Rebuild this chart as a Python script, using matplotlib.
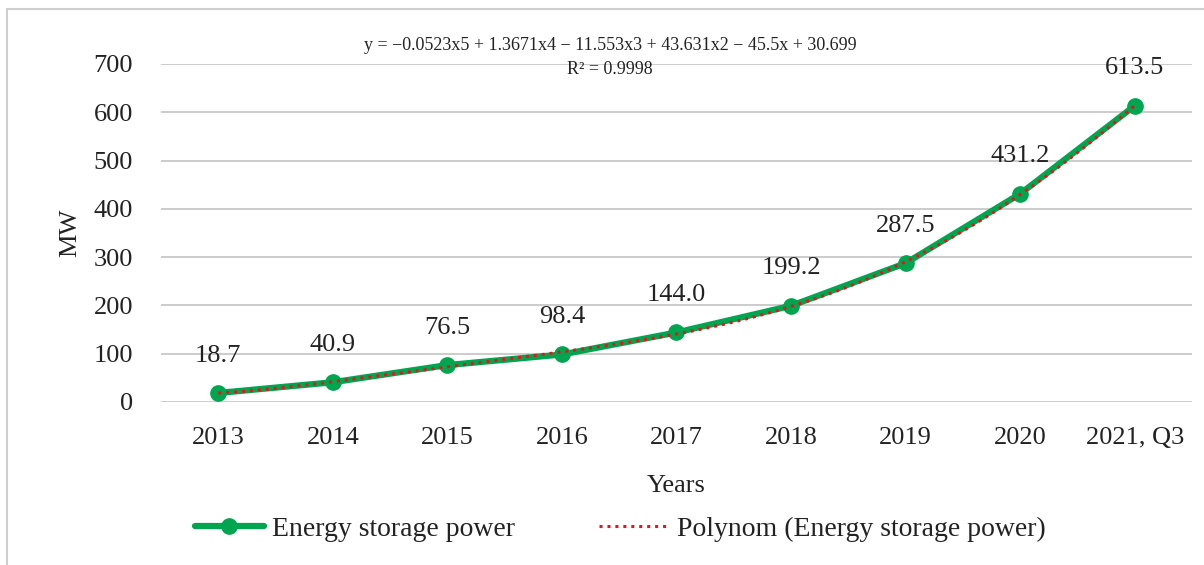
import numpy as np
import matplotlib.pyplot as plt
from matplotlib.patches import Rectangle

plt.rcParams['font.family'] = ['Liberation Serif', 'DejaVu Serif']

categories = ['2013', '2014', '2015', '2016', '2017', '2018', '2019', '2020', '2021, Q3']
power = [18.7, 40.9, 76.5, 98.4, 144.0, 199.2, 287.5, 431.2, 613.5]
labels = ['18.7', '40.9', '76.5', '98.4', '144.0', '199.2', '287.5', '431.2', '613.5']
equation = 'y = \u22120.0523x5 + 1.3671x4 \u2212 11.553x3 + 43.631x2 \u2212 45.5x + 30.699'
r2_text = 'R\u00b2 = 0.9998'

green = '#00A64F'
red = '#E8141B'
txt = '#222222'

fig = plt.figure(figsize=(12.04, 5.65), dpi=100)
ax = fig.add_axes([161 / 1204, 1 - 402 / 565, 1031 / 1204, 338 / 565])

x = np.arange(1, len(power) + 1)
ax.plot(x, power, color=green, lw=4.5, marker='o', ms=11, solid_capstyle='round',
        label='Energy storage power', zorder=3)

# 5th degree polynomial trendline, like the spreadsheet one
coef = np.polyfit(x, power, 5)
xf = np.linspace(1, len(power), 200)
ax.plot(xf, np.polyval(coef, xf), color=red, lw=2.2, ls=(0, (1, 1.6)),
        label='Polynom (Energy storage power)', zorder=4)

for xi, yi, lab in zip(x, power, labels):
    ax.annotate(lab, (xi, yi), xytext=(0, 19), textcoords='offset points',
                ha='center', va='bottom', fontsize=19, color=txt)

ax.set_xlim(0.5, len(power) + 0.5)
ax.set_ylim(0, 700)
ax.set_yticks(range(0, 701, 100))
ax.set_xticks(x)
ax.set_xticklabels(categories)
ax.yaxis.grid(True, color='#c8c8c8', lw=1.3)
ax.set_axisbelow(True)
for s in ax.spines.values():
    s.set_visible(False)
ax.tick_params(axis='both', length=0, labelsize=19, colors=txt)
ax.tick_params(axis='y', pad=20)
ax.tick_params(axis='x', pad=18)
ax.set_xlabel('Years', fontsize=19, color=txt, labelpad=19)
ax.set_ylabel('MW', fontsize=19, color=txt, labelpad=9)

fig.text(610 / 1204, 1 - 45 / 565, equation, ha='center', va='center', fontsize=13, color=txt)
fig.text(610 / 1204, 1 - 70 / 565, r2_text, ha='center', va='center', fontsize=13, color=txt)

fig.legend(loc='center', bbox_to_anchor=(620 / 1204, 1 - 529 / 565), ncol=2, frameon=False,
           fontsize=20, handlelength=2.5, handletextpad=0.3, columnspacing=3,
           labelcolor=txt)

fig.patches.append(Rectangle((7 / 1204, -0.1), 1.2, 1 - 9 / 565 + 0.1, transform=fig.transFigure,
                             fill=False, ec='#cfcfcf', lw=1.5))

fig.savefig('out.png', dpi=100)
